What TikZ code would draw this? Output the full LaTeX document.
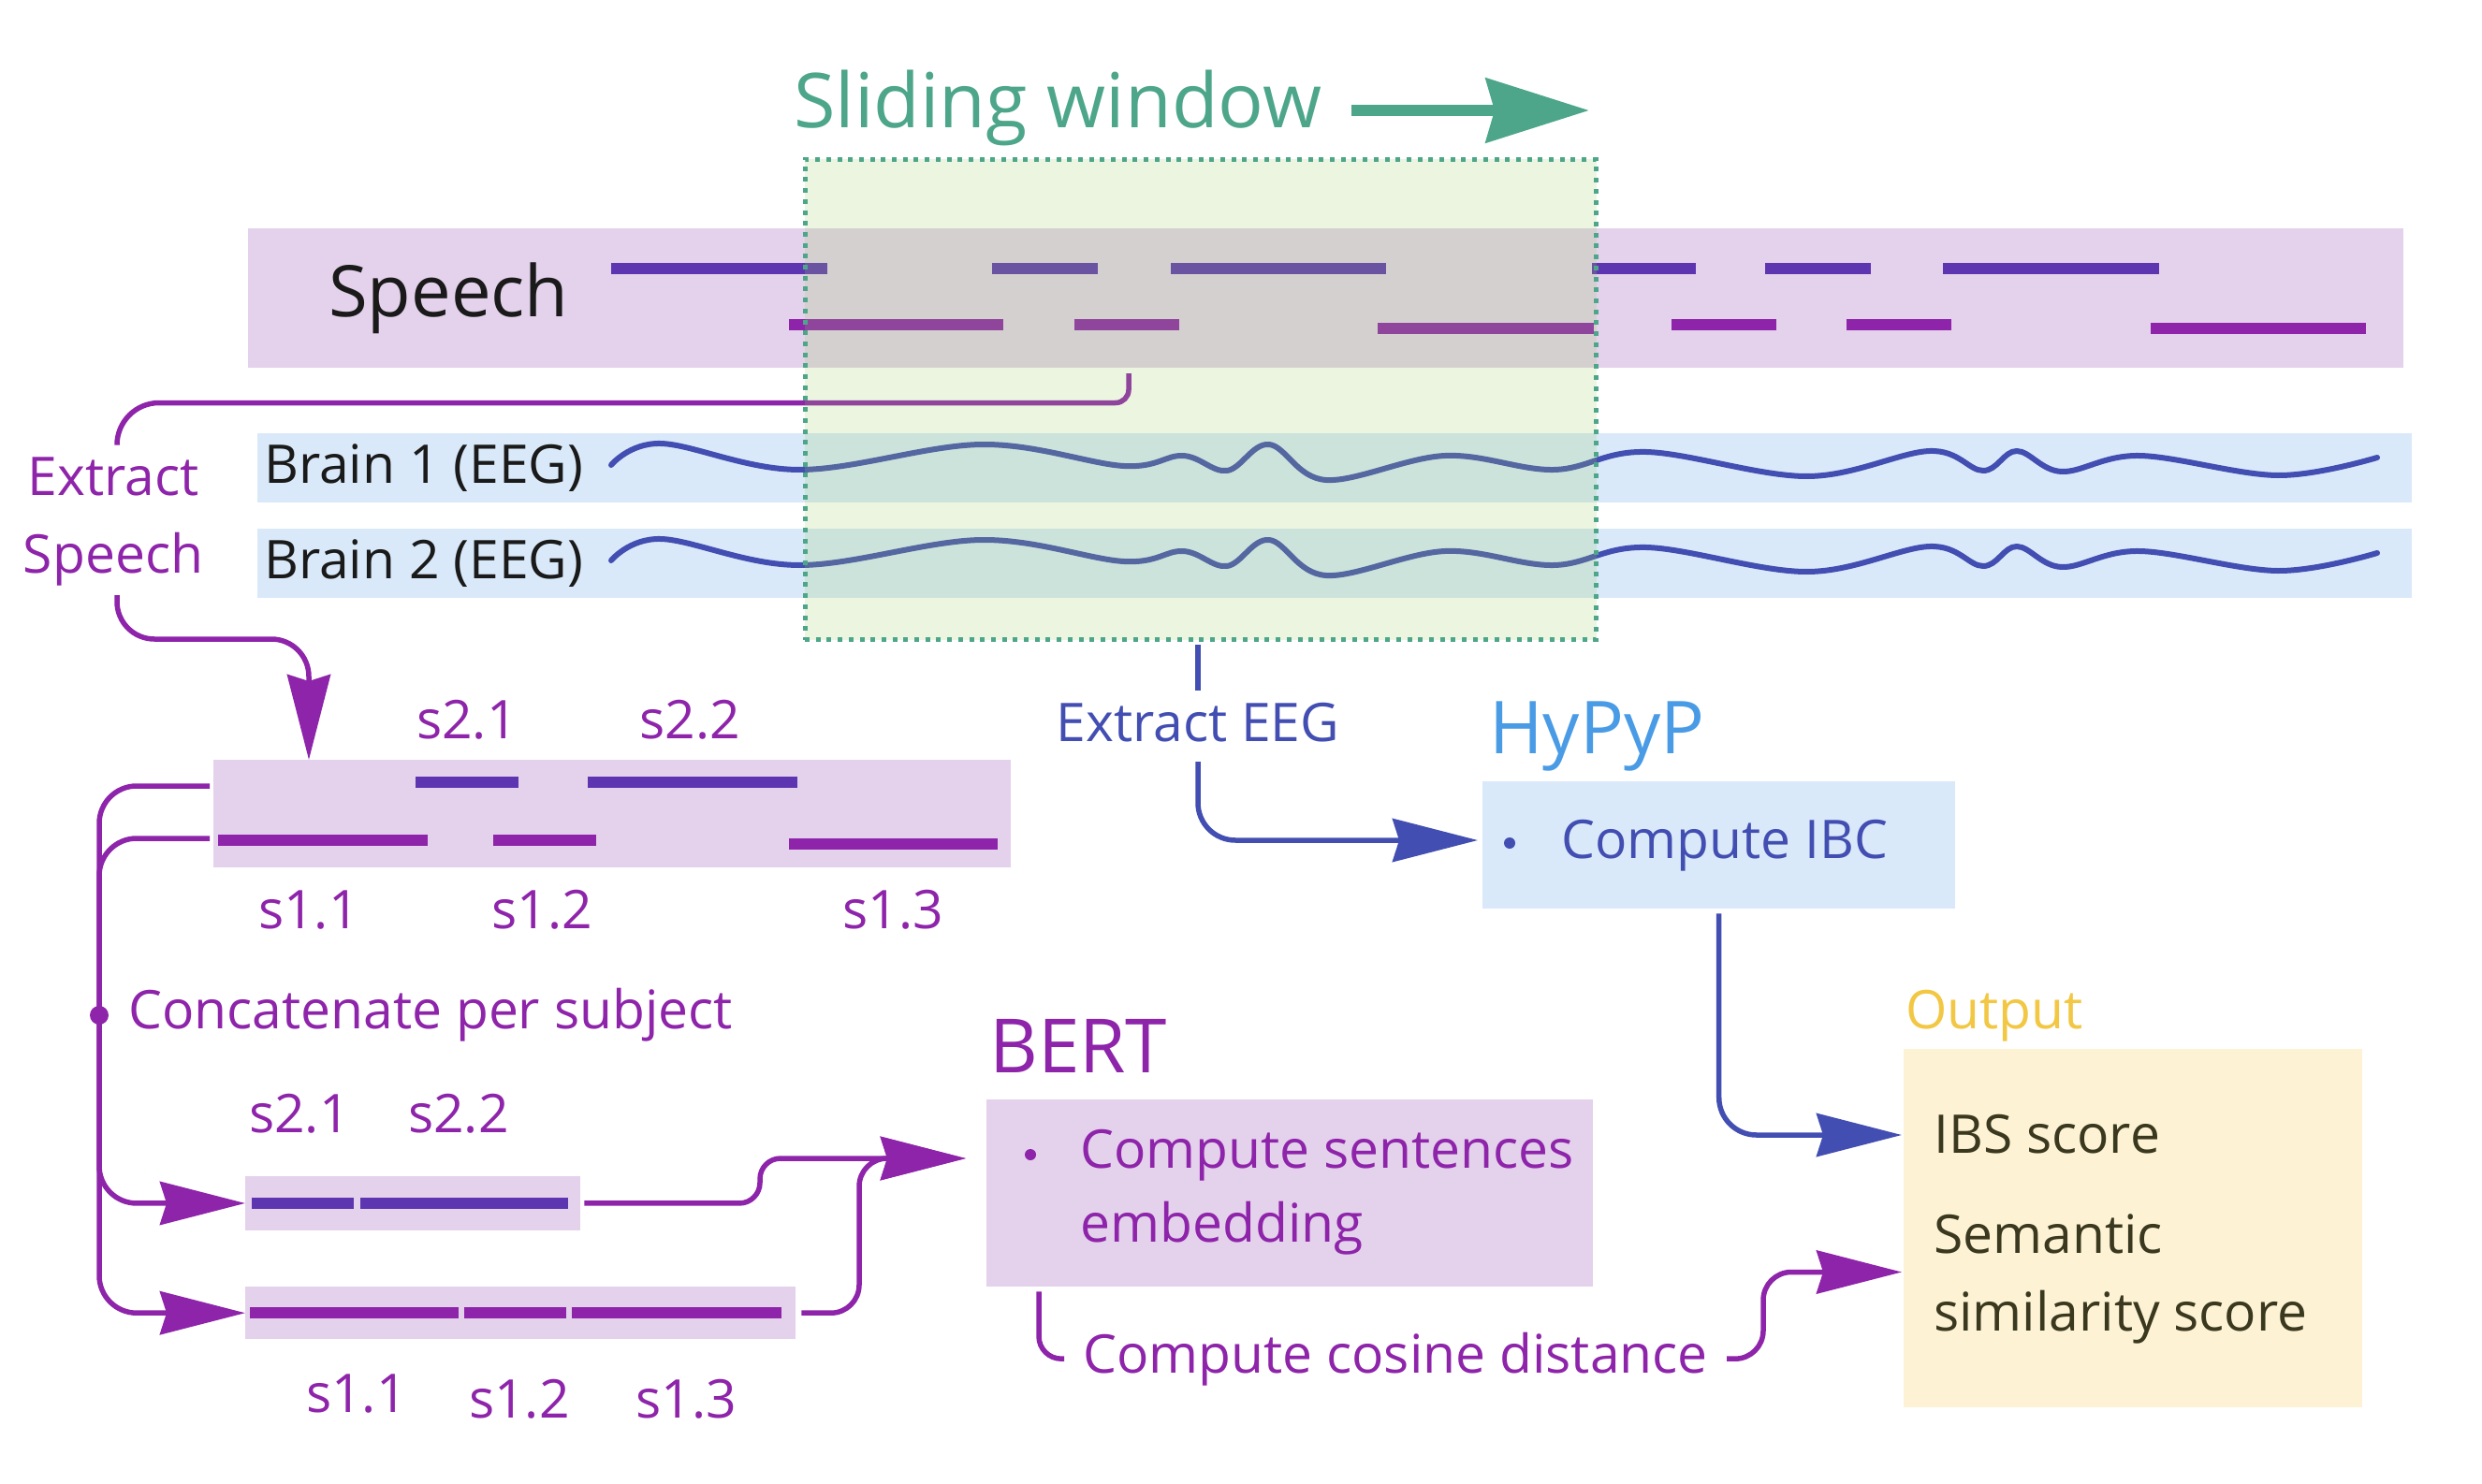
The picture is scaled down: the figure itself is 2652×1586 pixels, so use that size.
\documentclass[tikz,border=0pt]{standalone}
\usepackage{fontspec}
\setmainfont{Open Sans}
\usetikzlibrary{arrows.meta}
\definecolor{cLav}{HTML}{E4D1EB}
\definecolor{cSkyBg}{HTML}{D9E9F9}
\definecolor{cYelBg}{HTML}{FDF3D4}
\definecolor{cGreen}{HTML}{9CCC65}
\definecolor{cTeal}{HTML}{4DA68A}
\definecolor{cPurple}{HTML}{8E24AA}
\definecolor{cDeep}{HTML}{5E35B1}
\definecolor{cIndigo}{HTML}{424EB1}
\definecolor{cHyp}{HTML}{4A9BE6}
\definecolor{cAmber}{HTML}{F2C744}
\definecolor{cOlive}{HTML}{3B3820}
\definecolor{cInk}{HTML}{1A1A1A}
\begin{document}
\begin{tikzpicture}[x=1pt,y=-1pt,
  box/.style={inner sep=0pt, anchor=north west, draw=none},
  txt/.style={inner sep=0pt, anchor=base west, font=\fontsize{57}{68}\selectfont},
  conn/.style={line width=5.5pt},
  tipA/.style={-{Stealth[length=91pt,width=46pt,inset=7pt]}},
  seg/.style={line width=12pt},
  wave/.style={cIndigo, line width=6pt, line cap=round, line join=round},
]
\useasboundingbox (0,0) rectangle (2652,1586);

% ---------- bands ----------
\node[box, fill=cLav, minimum width=2303pt, minimum height=149pt] (speechband) at (265,244) {};
\node[box, fill=cSkyBg, minimum width=2302pt, minimum height=74pt] (brainA) at (275,463) {};
\node[box, fill=cSkyBg, minimum width=2302pt, minimum height=74pt] (brainB) at (275,565) {};

% speech turns
\draw[seg, cDeep] (653,287) -- (884,287) (1060,287) -- (1173,287) (1251,287) -- (1481,287)
  (1701,287) -- (1812,287) (1886,287) -- (1999,287) (2076,287) -- (2307,287);
\draw[seg, cPurple] (843,347.5) -- (1072,347.5) (1148,347.5) -- (1260,347.5) (1472,351.5) -- (1703,351.5)
  (1786,347.5) -- (1898,347.5) (1973,347.5) -- (2085,347.5) (2298,351.5) -- (2528,351.5);

\node[txt, text=cInk, font=\fontsize{76}{90}\selectfont] (speechlbl) at (351,338) {Speech};
\node[txt, text=cInk] (brainAlbl) at (282,516) {Brain 1 (EEG)};
\node[txt, text=cInk] (brainBlbl) at (282,618) {Brain 2 (EEG)};

% EEG waves
\foreach \dy in {0,102}{
\begin{scope}[shift={(0,\dy)}]
\draw[wave] plot[smooth, tension=0.6] coordinates {(653,497) (706,474) (854,502) (1049,475) (1201,498)
  (1264,487) (1311,503) (1356,475) (1417,513) (1544,487) (1660,502) (1759,483) (1931,509)
  (2062,482) (2119,503) (2155,482) (2203,504) (2286,487) (2434,508) (2540,489)};
\end{scope}}

% extract speech
\coordinate (tapS) at (1206,399);
\coordinate (esdrop) at (330,683);
\node[txt, anchor=base, text=cPurple] (exA) at (121,529) {Extract};
\node[txt, anchor=base, text=cPurple] (exB) at (121,612) {Speech};
\draw[conn, cPurple, rounded corners=14pt] (tapS) -- (1206,430.5) [rounded corners=45pt] -- (125,430.5) -- (125,475);

% ---------- sliding window ----------
\node[box, fill=cGreen, fill opacity=0.2, draw=cTeal, line width=5pt, dash pattern=on 5pt off 6.7pt,
  minimum width=845.5pt, minimum height=513pt] (win) at (857.5,168) {};
\node[txt, text=cTeal, font=\fontsize{81}{95}\selectfont] (title) at (848,137) {Sliding window};
\coordinate (swstart) at (1444,118);
\coordinate (swtip) at (1698,118);
\draw[cTeal, line width=11.7pt, -{Stealth[length=110pt,width=68pt,inset=9pt]}] (swstart) -- (swtip);

% ---------- segments box ----------
\draw[conn, cPurple, rounded corners=40pt, tipA] (125,636) |- (esdrop) -- (esdrop |- 0,812);
\node[box, fill=cLav, minimum width=852pt, minimum height=115pt] (segbox) at (228,812) {};
\draw[seg, cDeep] (444,836) -- (554,836) (628,836) -- (852,836);
\draw[seg, cPurple] (233,898) -- (457,898) (527,898) -- (637,898) (843,902) -- (1066,902);
\node[txt, text=cPurple] (t21) at (445,789) {s2.1};
\node[txt, text=cPurple] (t22) at (683,789) {s2.2};
\node[txt, text=cPurple] (t11) at (276,992) {s1.1};
\node[txt, text=cPurple] (t12) at (525,992) {s1.2};
\node[txt, text=cPurple] (t13) at (900,992) {s1.3};

% concatenated boxes
\node[box, fill=cLav, minimum width=358pt, minimum height=57.5pt] (cat2) at (262,1257) {};
\draw[seg, cDeep] (269,1286) -- (378,1286) (385,1286) -- (607,1286);
\node[box, fill=cLav, minimum width=588pt, minimum height=56pt] (cat1) at (262,1375) {};
\draw[seg, cPurple] (267,1402.5) -- (490,1402.5) (496,1402.5) -- (605,1402.5) (611,1402.5) -- (835,1402.5);
\node[txt, text=cPurple] (c21) at (266,1210) {s2.1};
\node[txt, text=cPurple] (c22) at (436,1210) {s2.2};
\node[txt, text=cPurple] (c11) at (327,1509) {s1.1};
\node[txt, text=cPurple] (c12) at (501,1515) {s1.2};
\node[txt, text=cPurple] (c13) at (679,1515) {s1.3};

\coordinate (b2) at (224,840);
\coordinate (b1) at (224,896);
\coordinate (spine) at (106,1085);
\draw[conn, cPurple, rounded corners=40pt, tipA] (b2) -| (spine) |- (cat2.west);
\draw[conn, cPurple, rounded corners=40pt, tipA] (b1) -| (spine) |- (cat1.west);
\fill[cPurple] (spine) circle (10pt);
\node[txt, text=cPurple] (concat) at (137,1099) {Concatenate per subject};

% ---------- BERT ----------
\node[box, fill=cLav, minimum width=648pt, minimum height=200pt] (bert) at (1054,1175) {};
\node[txt, text=cPurple, font=\fontsize{80}{95}\selectfont] (bertlbl) at (1057,1146) {BERT};
\fill[cPurple] (1101,1234) circle (6pt);
\node[txt, text=cPurple] (bertA) at (1154,1248) {Compute sentences};
\node[txt, text=cPurple] (bertB) at (1154,1327) {embedding};
\coordinate (bin) at (1032,1238);
\coordinate (k2) at (812,1238);
\coordinate (k1) at (918,1238);
\draw[conn, cPurple, rounded corners=22pt, tipA] ([xshift=4pt]cat2.east) -| (k2) -- (bin);
\draw[conn, cPurple, rounded corners=30pt, tipA] ([xshift=6pt]cat1.east) -| (k1) -- (bin);

% ---------- HyPyP ----------
\node[box, fill=cSkyBg, minimum width=505pt, minimum height=136pt] (hyp) at (1584,835) {};
\node[txt, text=cHyp, font=\fontsize{78}{92}\selectfont] (hyplbl) at (1591,805) {HyPyP};
\fill[cIndigo] (1613,901) circle (6pt);
\node[txt, text=cIndigo] (ibc) at (1668,917) {Compute IBC};
\node[txt, anchor=base, text=cIndigo] (eeg) at (1280,792) {Extract EEG};
\coordinate (eegtop) at (1280,689);
\coordinate (eegbot) at (1280,814);
\coordinate (hypin) at (1584,898);
\draw[conn, cIndigo] (eegtop) -- (eegtop |- 0,738);
\draw[conn, cIndigo, rounded corners=40pt, tipA, shorten >=5pt] (eegbot) |- (hypin);

% ---------- Output ----------
\node[box, fill=cYelBg, minimum width=490pt, minimum height=383pt] (out) at (2034,1121) {};
\node[txt, text=cAmber] (outlbl) at (2036,1099) {Output};
\node[txt, text=cOlive] (ibs) at (2066,1232) {IBS score};
\node[txt, text=cOlive] (semA) at (2066,1339) {Semantic};
\node[txt, text=cOlive] (semB) at (2066,1422) {similarity score};
\coordinate (ibsin) at (2032,1213);
\coordinate (simin) at (2032,1359.5);
\coordinate (simk) at (1884,1359.5);
\draw[conn, cIndigo, rounded corners=40pt, tipA] ([yshift=-5pt]hyp.south) |- (ibsin);

% cosine distance
\node[txt, text=cPurple] (cos) at (1157,1467) {Compute cosine distance};
\draw[conn, cPurple, rounded corners=24pt] ([shift={(56pt,-5pt)}]bert.south west) |- ([xshift=-20pt]cos.west);
\draw[conn, cPurple, rounded corners=30pt, tipA] ([xshift=20pt]cos.east) -| (simk) -- (simin);
\end{tikzpicture}
\end{document}
